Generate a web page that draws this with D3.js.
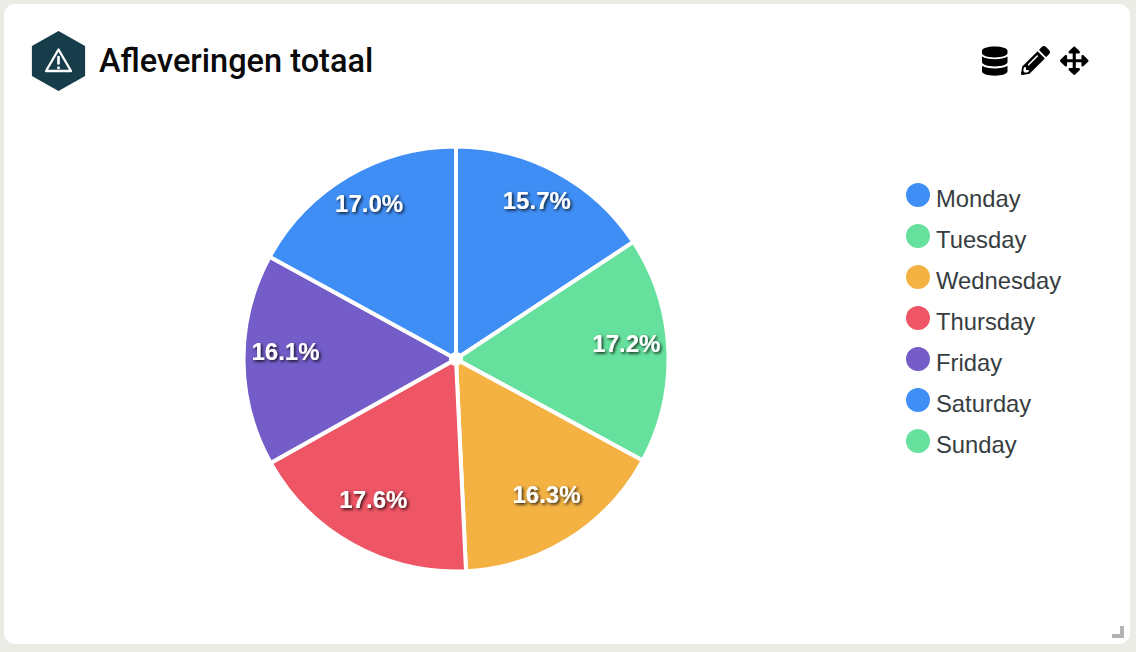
<!DOCTYPE html>
<html><head><meta charset="utf-8">
<script src="https://cdn.jsdelivr.net/npm/d3@7/dist/d3.min.js"></script>
<style>html,body{margin:0;padding:0;background:#ecece7;overflow:hidden}svg{display:block}</style>
</head><body><svg id="c" width="1136" height="652"></svg>
<script>
const days = ["Monday","Tuesday","Wednesday","Thursday","Friday","Saturday","Sunday"];
const percents = [15.7,17.2,16.3,17.6,16.1,17.0,0];
const palette = ["#3f8ef5","#66e19d","#f4b243","#ee5565","#745cc9","#3f8ef5","#66e19d"];
const chartTitle = "Afleveringen totaal";

const svg = d3.select("#c");
const defs = svg.append("defs");
const f = defs.append("filter").attr("id","ts").attr("x","-20%").attr("y","-40%").attr("width","140%").attr("height","180%");
f.append("feDropShadow").attr("dx",1.5).attr("dy",1.5).attr("stdDeviation",1.8).attr("flood-color","#000").attr("flood-opacity",0.85);

svg.append("rect").attr("x",4).attr("y",4).attr("width",1126).attr("height",640).attr("rx",11).attr("fill","#fff");

// header badge
const hx = svg.append("g").attr("transform","translate(58.5,61)");
hx.append("path").attr("d",d3.line()(d3.range(6).map(i=>{const a=Math.PI/3*i; const r=29;return [r*Math.sin(a)*1.02,-r*Math.cos(a)];}))+"Z")
  .attr("fill","#173c4a").attr("stroke","#173c4a").attr("stroke-width",2).attr("stroke-linejoin","round");
hx.append("path").attr("d","M0,-11.5 L12.5,10 L-12.5,10 Z").attr("fill","none").attr("stroke","#fff").attr("stroke-width",2.3).attr("stroke-linejoin","round");
hx.append("path").attr("d","M0,-4 V2.5").attr("stroke","#fff").attr("stroke-width",2.6).attr("stroke-linecap","round");
hx.append("circle").attr("cy",6.8).attr("r",1.5).attr("fill","#fff");

svg.append("text").attr("x",99).attr("y",72).text(chartTitle)
  .attr("font-family","Roboto").attr("font-weight",500).attr("font-size",32.5).attr("fill","#0a0a0a");

// toolbar icons
const icons = [
 [982,46.5,25.5/448,"M448 73.143v45.714C448 159.143 347.667 192 224 192S0 159.143 0 118.857V73.143C0 32.857 100.333 0 224 0s224 32.857 224 73.143zM448 176v102.857C448 319.143 347.667 352 224 352S0 319.143 0 278.857V176c48.125 33.143 136.208 48.572 224 48.572S399.874 209.143 448 176zm0 160v102.857C448 479.143 347.667 512 224 512S0 479.143 0 438.857V336c48.125 33.143 136.208 48.572 224 48.572S399.874 369.143 448 336z"],
 [1021,46,29/512,"M497.9 142.1l-46.1 46.1c-4.7 4.7-12.3 4.7-17 0l-111-111c-4.7-4.7-4.7-12.3 0-17l46.1-46.1c18.7-18.7 49.1-18.7 67.9 0l60.1 60.1c18.8 18.7 18.8 49.1 0 67.9zM284.2 99.8L21.6 362.4.4 483.9c-2.9 16.4 11.4 30.6 27.8 27.8l121.5-21.3 262.6-262.6c4.7-4.7 4.7-12.3 0-17l-111-111c-4.8-4.7-12.4-4.7-17.1 0zM124.1 339.9c-5.5-5.5-5.5-14.3 0-19.8l154-154c5.5-5.5 14.3-5.5 19.8 0s5.5 14.3 0 19.8l-154 154c-5.5 5.5-14.3 5.5-19.8 0zM88 424h48v36.3l-64.5 11.3-31.1-31.1L51.7 376H88v48z"],
 [1060,46.5,28.5/512,"M352.201 425.775l-79.196 79.196c-9.373 9.373-24.568 9.373-33.941 0l-79.196-79.196c-15.119-15.119-4.411-40.971 16.971-40.97h51.162L228 284H127.196v51.162c0 21.382-25.851 32.09-40.971 16.971L7.029 272.937c-9.373-9.373-9.373-24.569 0-33.941L86.225 159.8c15.119-15.119 40.971-4.411 40.971 16.971V228H228V127.196h-51.23c-21.382 0-32.09-25.851-16.971-40.971l79.196-79.196c9.373-9.373 24.568-9.373 33.941 0l79.196 79.196c15.119 15.119 4.411 40.971-16.971 40.971h-51.162V228h100.804v-51.162c0-21.382 25.851-32.09 40.97-16.971l79.196 79.196c9.373 9.373 9.373 24.569 0 33.941L425.773 352.2c-15.119 15.119-40.971 4.411-40.97-16.971V284H284v100.804h51.23c21.382 0 32.09 25.851 16.971 40.971z"]
];
svg.append("g").selectAll("path").data(icons).join("path")
  .attr("transform",d=>`translate(${d[0]},${d[1]}) scale(${d[2]})`).attr("d",d=>d[3]).attr("fill","#000");

// resize handle
svg.append("path").attr("d","M1112,638 H1124 V626 H1120 V634 H1112 Z").attr("fill","#b3b3b3");

// pie
const cx=456, cy=359, R=212.5, labelLift=8.5;
const color = d3.scaleOrdinal(days,palette);
const pie = d3.pie().sort(null).value(d=>d.v)(days.map((k,i)=>({k,v:percents[i]})));
const arc = d3.arc().innerRadius(5).outerRadius(R);
const labelArc = d3.arc().innerRadius(170.5).outerRadius(170.5);
const g = svg.append("g").attr("transform",`translate(${cx},${cy})`);
g.selectAll("path").data(pie.filter(d=>d.data.v>0)).join("path")
  .attr("d",arc).attr("fill",d=>color(d.data.k)).attr("stroke","#fff").attr("stroke-width",4);
g.selectAll("text").data(pie.filter(d=>d.data.v>0)).join("text")
  .attr("transform",d=>{const c=labelArc.centroid(d);return `translate(${c[0]},${c[1]-labelLift})`;})
  .attr("text-anchor","middle").attr("dy","0.35em")
  .attr("font-family","Liberation Sans").attr("font-weight",700).attr("font-size",24).attr("fill","#fff")
  .attr("filter","url(#ts)").text(d=>d.data.v.toFixed(1)+"%");

// legend
const lg = svg.append("g").selectAll("g").data(days).join("g")
  .attr("transform",(d,i)=>`translate(906,${183+i*41})`);
lg.append("circle").attr("cx",12).attr("cy",12).attr("r",12).attr("fill",d=>color(d));
lg.append("text").attr("x",30).attr("y",24.3).text(d=>d)
  .attr("font-family","Liberation Sans").attr("font-size",23.8).attr("fill","#373d3f");
</script></body></html>
